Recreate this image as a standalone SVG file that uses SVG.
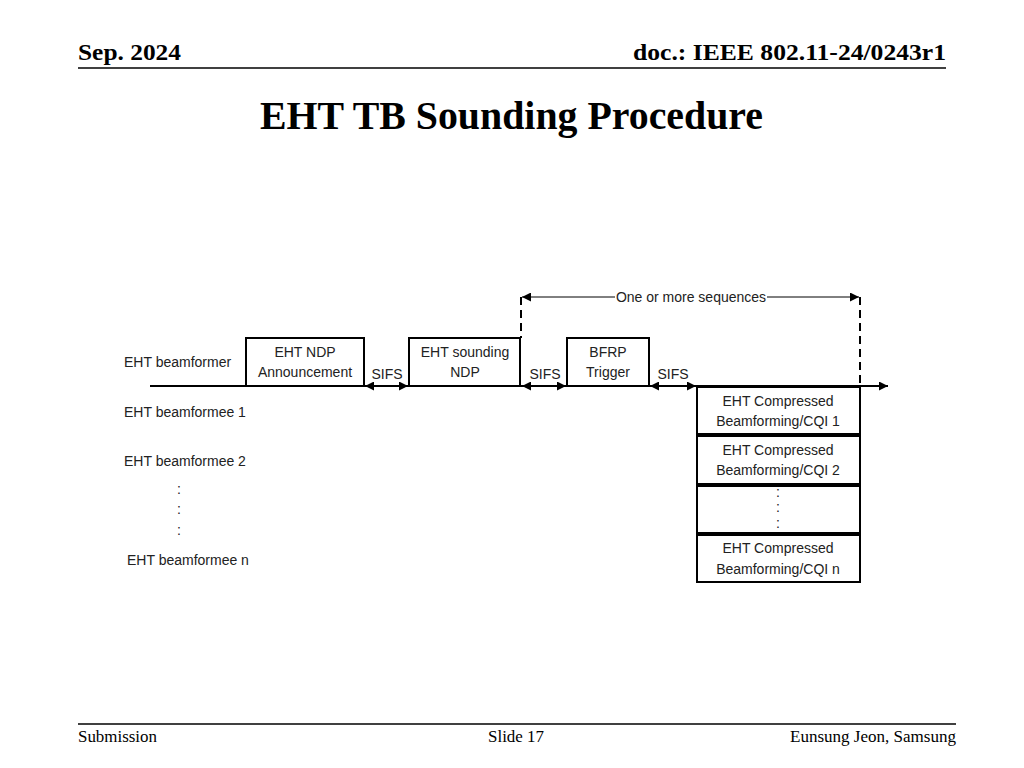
<svg xmlns="http://www.w3.org/2000/svg" width="1024" height="768" viewBox="0 0 1024 768">
<style>
.hdr{font-family:"Liberation Serif",serif;font-weight:bold;font-size:23px;fill:#000}
.ttl{font-family:"Liberation Serif",serif;font-weight:bold;font-size:39px;fill:#000}
.ftr{font-family:"Liberation Serif",serif;font-size:16px;fill:#000}
.lbl{font-family:"Liberation Sans",Arial,sans-serif;font-size:14px;fill:#222}
.box{fill:#fff;stroke:#000;stroke-width:2}
.ln{stroke:#000;stroke-width:2;fill:none}
.dash{stroke:#000;stroke-width:2;fill:none;stroke-dasharray:8,5}
.thin{stroke:#000;stroke-width:1;fill:none}
</style>
<defs>
<marker id="ah" viewBox="0 0 10 10" refX="10" refY="5" markerWidth="10" markerHeight="9" markerUnits="userSpaceOnUse" orient="auto-start-reverse">
<path d="M0,0 L10,5 L0,10 z" fill="#000"/>
</marker>
</defs>
<rect width="1024" height="768" fill="#fff"/>
<g id="header">
<text class="hdr" x="78" y="60" textLength="103" lengthAdjust="spacingAndGlyphs">Sep. 2024</text>
<text class="hdr" x="633" y="60" textLength="313" lengthAdjust="spacingAndGlyphs">doc.: IEEE 802.11-24/0243r1</text>
<line x1="78" y1="68" x2="946" y2="68" stroke="#000" stroke-width="1.5"/>
<text class="ttl" x="260" y="129" textLength="503" lengthAdjust="spacingAndGlyphs">EHT TB Sounding Procedure</text>
</g>
<g id="footer">
<line x1="78" y1="724" x2="956" y2="724" stroke="#000" stroke-width="1.5"/>
<text class="ftr" x="78" y="742" textLength="79" lengthAdjust="spacingAndGlyphs">Submission</text>
<text class="ftr" x="488" y="742" textLength="56" lengthAdjust="spacingAndGlyphs">Slide 17</text>
<text class="ftr" x="790" y="742" textLength="166" lengthAdjust="spacingAndGlyphs">Eunsung Jeon, Samsung</text>
</g>
<g id="labels">
<text class="lbl" x="124" y="367">EHT beamformer</text>
<text class="lbl" x="124" y="417">EHT beamformee 1</text>
<text class="lbl" x="124" y="466">EHT beamformee 2</text>
<text class="lbl" x="177" y="494">:</text>
<text class="lbl" x="177" y="514">:</text>
<text class="lbl" x="177" y="535">:</text>
<text class="lbl" x="127" y="565">EHT beamformee n</text>
</g>
<g id="connectors">
<line class="ln" x1="150" y1="386" x2="888" y2="386" marker-end="url(#ah)"/>
<line class="thin" x1="365" y1="386" x2="408" y2="386" marker-start="url(#ah)" marker-end="url(#ah)"/>
<line class="thin" x1="522" y1="386" x2="566" y2="386" marker-start="url(#ah)" marker-end="url(#ah)"/>
<line class="thin" x1="650" y1="386" x2="696" y2="386" marker-start="url(#ah)" marker-end="url(#ah)"/>
<line class="dash" x1="521" y1="297" x2="521" y2="338"/>
<line class="dash" x1="860" y1="297" x2="860" y2="386"/>
<line class="thin" x1="522" y1="297" x2="615" y2="297" marker-start="url(#ah)"/>
<line class="thin" x1="767" y1="297" x2="859" y2="297" marker-end="url(#ah)"/>
<text class="lbl" x="691" y="302" text-anchor="middle">One or more sequences</text>
<text class="lbl" x="387" y="379" text-anchor="middle">SIFS</text>
<text class="lbl" x="545" y="379" text-anchor="middle">SIFS</text>
<text class="lbl" x="673" y="379" text-anchor="middle">SIFS</text>
</g>
<g id="ndpa">
<rect class="box" x="246" y="338" width="118" height="48"/>
<text class="lbl" x="305" y="357" text-anchor="middle">EHT NDP</text>
<text class="lbl" x="305" y="377" text-anchor="middle">Announcement</text>
</g>
<g id="ndp">
<rect class="box" x="409" y="338" width="111" height="48"/>
<text class="lbl" x="465" y="357" text-anchor="middle">EHT sounding</text>
<text class="lbl" x="465" y="377" text-anchor="middle">NDP</text>
</g>
<g id="bfrp">
<rect class="box" x="567" y="338" width="82" height="48"/>
<text class="lbl" x="608" y="357" text-anchor="middle">BFRP</text>
<text class="lbl" x="608" y="377" text-anchor="middle">Trigger</text>
</g>
<g id="cbf1">
<rect class="box" x="697" y="387" width="163" height="47"/>
<text class="lbl" x="778" y="406" text-anchor="middle">EHT Compressed</text>
<text class="lbl" x="778" y="426" text-anchor="middle">Beamforming/CQI 1</text>
</g>
<g id="cbf2">
<rect class="box" x="697" y="436" width="163" height="48"/>
<text class="lbl" x="778" y="455" text-anchor="middle">EHT Compressed</text>
<text class="lbl" x="778" y="475" text-anchor="middle">Beamforming/CQI 2</text>
</g>
<g id="cbfdots">
<rect class="box" x="697" y="486" width="163" height="47"/>
<text class="lbl" x="778" y="497" text-anchor="middle">:</text>
<text class="lbl" x="778" y="512" text-anchor="middle">:</text>
<text class="lbl" x="778" y="528" text-anchor="middle">:</text>
</g>
<g id="cbfn">
<rect class="box" x="697" y="535" width="163" height="47"/>
<text class="lbl" x="778" y="553" text-anchor="middle">EHT Compressed</text>
<text class="lbl" x="778" y="574" text-anchor="middle">Beamforming/CQI n</text>
</g>
</svg>
